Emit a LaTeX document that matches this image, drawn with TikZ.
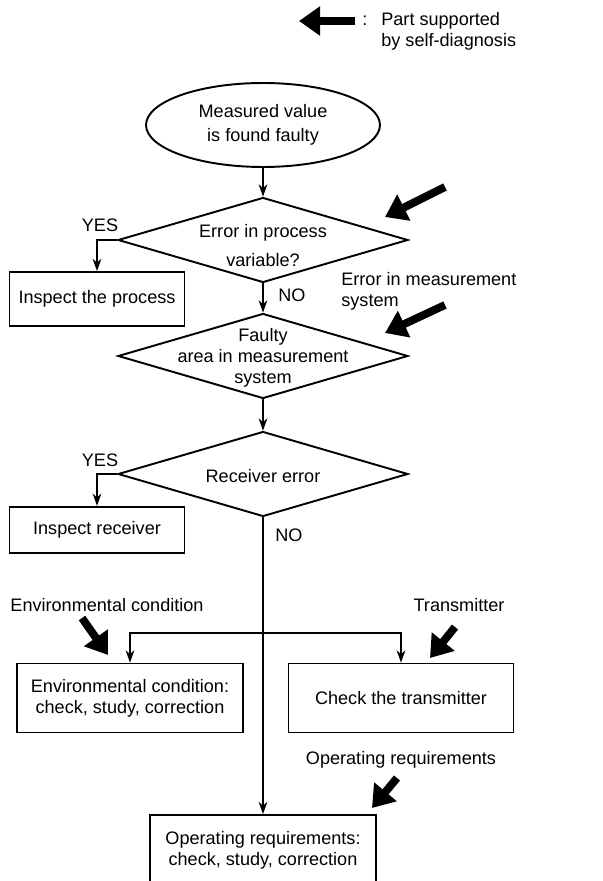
\documentclass[tikz,border=0pt]{standalone}
\usepackage{fontspec}
\setmainfont{Liberation Sans}
\usetikzlibrary{shapes.geometric,arrows.meta}

\tikzset{
  flow/.style={line width=0.6pt, -{Stealth[length=7pt,width=5pt]}},
  selfdiag/.style={line width=4.5pt, -{Triangle[length=12pt,width=16pt]}},
  procbox/.style={draw, line width=1.1pt, rectangle, inner sep=0pt, align=center},
  decision/.style={draw, line width=1.1pt, diamond, inner sep=0pt,
                   minimum width=5.8cm, minimum height=1.7cm}
}

\begin{document}
\begin{tikzpicture}[x=0.02cm, y=-0.02cm, font=\fontsize{10.3}{12}\selectfont]

    \useasboundingbox (0,0) rectangle (602,881);
    \clip (0,0) rectangle (602,881);

    % --- Legenda ---
    \coordinate (lgA) at (355,21);
    \coordinate (lgB) at (299,21);
    \draw[selfdiag] (lgA) -- (lgB);
    \node (lgc) at (365,21) {:};
    \node[anchor=west, align=left, inner sep=0pt] (lgt) at (381,31)
        {Part supported\\by self-diagnosis};

    % --- Inicio e decisoes ---
    \node[draw, line width=1.1pt, ellipse, inner sep=0pt, align=center,
          minimum width=4.68cm, minimum height=1.68cm] (start) at (263,125)
        {Measured value\\[1.5pt]is found faulty};

    \node[decision, label={[align=center, yshift=-3pt]center:Error in process\\[4.5pt]variable?}]
        (d1) at (263,240) {};
    \node[decision, label={[align=center, yshift=-1pt]center:Faulty\\area in measurement\\system}]
        (d2) at (263,356) {};
    \node[decision, label={[yshift=-1pt]center:Receiver error}]
        (d3) at (263,474) {};

    % --- Caixas ---
    \node[procbox, minimum width=3.5cm, minimum height=1.08cm] (proc) at (97,299)
        {Inspect the process};
    \node[procbox, minimum width=3.5cm, minimum height=0.93cm] (recv) at (97,530)
        {Inspect receiver};
    \node[procbox, minimum width=4.52cm, minimum height=1.38cm] (env) at (130,698)
        {Environmental condition:\\check, study, correction};
    \node[procbox, minimum width=4.5cm, minimum height=1.38cm] (trans) at (401,698)
        {Check the transmitter};
    \node[procbox, minimum width=4.52cm, minimum height=1.4cm] (ops) at (263,850)
        {Operating requirements:\\check, study, correction};

    % --- Rotulos ---
    \node (yes1) at (100,225) {YES};
    \node (no1) at (292,295) {NO};
    \node (yes2) at (100,460) {YES};
    \node (no2) at (289,535) {NO};
    \node[anchor=west, align=left, inner sep=0pt] (lmeas) at (341,291)
        {Error in measurement\\system};
    \node (lenv) at (107,605) {Environmental condition};
    \node (ltrans) at (459,605) {Transmitter};
    \node (lops) at (401,760) {Operating requirements};

    % --- Ligacoes ---
    \draw[flow] (start) -- (d1);
    \draw[flow] (d1.west) -| (proc.north);
    \draw[flow] (d1) -- (d2);
    \draw[flow] (d2) -- (d3);
    \draw[flow] (d3.west) -| (recv.north);
    \draw[flow] (d3.south) -- (ops.north);

    \coordinate (jn) at (263,633);
    \draw[flow] (jn) -| (env.north);
    \draw[flow] (jn) -| (trans.north);

    % --- Setas de autodiagnostico ---
    \coordinate (s1a) at (445,187);  \coordinate (s1b) at (385,217);
    \coordinate (s2a) at (445,305);  \coordinate (s2b) at (385,333);
    \coordinate (s3a) at (82,618);   \coordinate (s3b) at (108,655);
    \coordinate (s4a) at (455,627);  \coordinate (s4b) at (430,658);
    \coordinate (s5a) at (397,778);  \coordinate (s5b) at (372,808);
    \draw[selfdiag] (s1a) -- (s1b);
    \draw[selfdiag] (s2a) -- (s2b);
    \draw[selfdiag] (s3a) -- (s3b);
    \draw[selfdiag] (s4a) -- (s4b);
    \draw[selfdiag] (s5a) -- (s5b);

\end{tikzpicture}
\end{document}
